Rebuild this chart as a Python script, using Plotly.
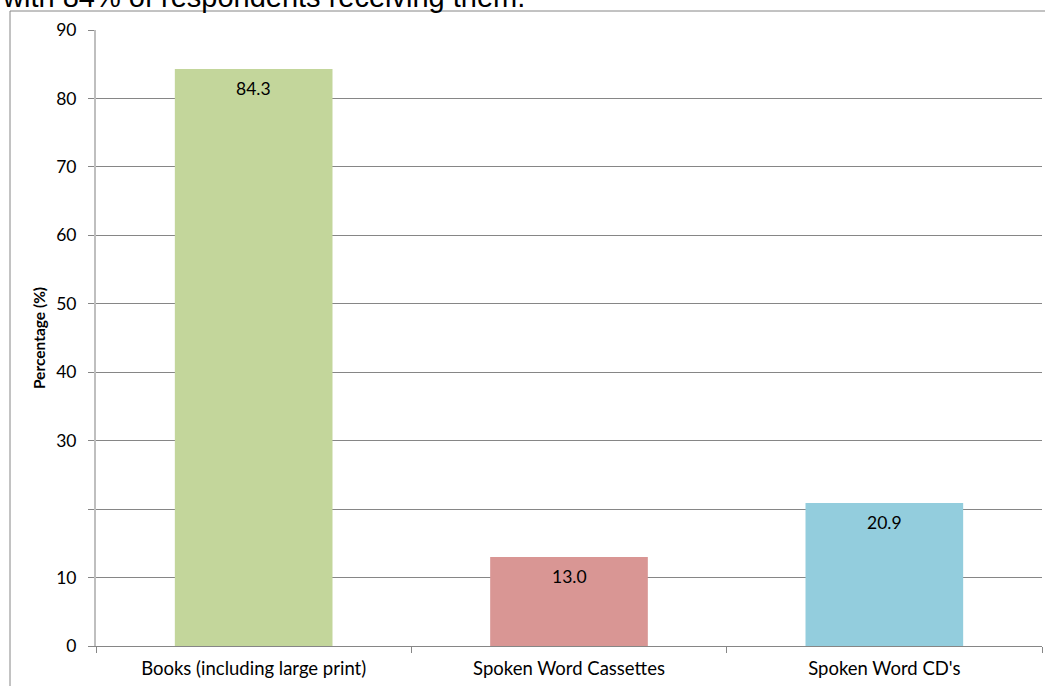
import plotly.graph_objects as go

categories = ["Books (including large print)", "Spoken Word Cassettes", "Spoken Word CD's"]
values = [84.3, 13.0, 20.9]
bar_colors = ["#C3D69B", "#D99694", "#93CDDD"]
y_tickvals = [0, 10, 20, 30, 40, 50, 60, 70, 80, 90]
y_ticktext = ["0", "10", "", "30", "40", "50", "60", "70", "80", "90"]
title_text = "with 84% of respondents receiving them."
y_title = "Percentage (%)"

W, H = 1045, 686
L, R, T, B = 96, 3, 30, 40
pw, ph = W - L - R, H - T - B

def px_x(x):
    return (x - L) / pw

def px_y(y):
    return (H - B - y) / ph

FONT = "Lato, Calibri, Carlito, sans-serif"

fig = go.Figure()
fig.add_trace(go.Bar(
    x=categories, y=values,
    marker=dict(color=bar_colors, line=dict(width=0)),
    width=0.5,
    hoverinfo="skip",
))

annotations = [
    dict(text=title_text, xref="paper", yref="paper", x=px_x(0), y=px_y(15),
         xanchor="left", yanchor="bottom", showarrow=False,
         font=dict(family="Liberation Sans, Arial, sans-serif", size=29, color="#000000")),
]
for c, v in zip(categories, values):
    annotations.append(dict(
        x=c, y=v, xref="x", yref="y", text=f"{v:.1f}", showarrow=False,
        xanchor="center", yanchor="top", yshift=-7,
        font=dict(family=FONT, size=17.5, color="#000000"),
    ))

fig.update_layout(
    width=W, height=H,
    margin=dict(l=L, r=R, t=T, b=B, pad=0),
    paper_bgcolor="white", plot_bgcolor="white",
    showlegend=False,
    font=dict(family=FONT, size=15, color="#000000"),
    xaxis=dict(
        type="category", range=[-0.5, 2.5],
        showgrid=False, showline=True, linecolor="#868686", linewidth=1,
        ticks="outside", tickson="boundaries", ticklen=6, tickcolor="#868686",
        ticklabelstandoff=6,
        tickfont=dict(family=FONT, size=18.5, color="#000000"),
        zeroline=False, fixedrange=True,
    ),
    yaxis=dict(
        range=[0, 90], tickvals=y_tickvals, ticktext=y_ticktext,
        showgrid=True, gridcolor="#868686", gridwidth=1,
        showline=True, linecolor="#BFBFBF", linewidth=2,
        ticks="outside", ticklen=6, tickcolor="#868686",
        ticklabelstandoff=8,
        tickfont=dict(family=FONT, size=17.5, color="#000000"),
        zeroline=False, fixedrange=True,
        title=dict(text="<b>" + y_title + "</b>", font=dict(family=FONT, size=15.5, color="#000000"), standoff=7),
    ),
    shapes=[
        dict(type="line", xref="paper", yref="paper", x0=px_x(10), x1=px_x(1045), y0=px_y(11), y1=px_y(11),
             line=dict(color="#868686", width=1)),
        dict(type="line", xref="paper", yref="paper", x0=px_x(10), x1=px_x(10), y0=px_y(11), y1=px_y(686),
             line=dict(color="#868686", width=1)),
    ],
    annotations=annotations,
)

fig.write_html("out.html")
